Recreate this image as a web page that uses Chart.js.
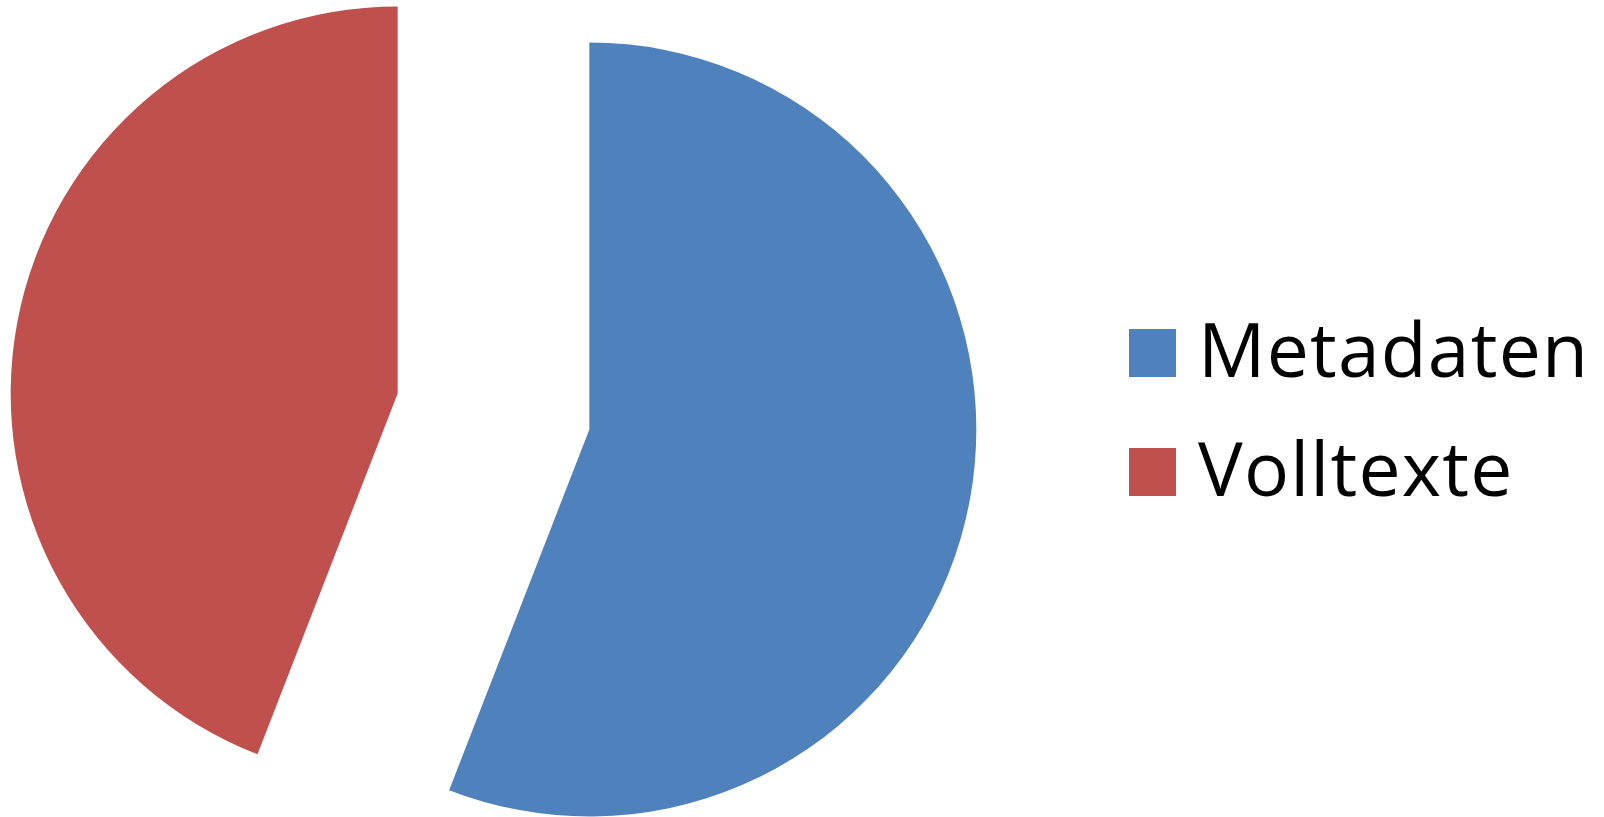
<!DOCTYPE html>
<html lang="de">
<head>
<meta charset="utf-8">
<title>Metadaten und Volltexte</title>
<script src="https://cdn.jsdelivr.net/npm/chart.js@4/dist/chart.umd.min.js"></script>
<style>
  html, body { margin: 0; padding: 0; background: #ffffff; overflow: hidden; }
  body { width: 1604px; height: 817px; position: relative; }
  #pieWrap { position: absolute; left: 0; top: 0; width: 987px; height: 823px; }
  #legend { position: absolute; left: 0; top: 0; }
  .swatch { position: absolute; width: 47px; height: 48px; }
  .label {
    position: absolute; white-space: nowrap;
    font-family: "Open Sans", Lato, sans-serif; font-size: 75px; line-height: 74px;
    letter-spacing: 1.2px; color: #000000;
  }
</style>
</head>
<body>
<div id="pieWrap"><canvas id="pie"></canvas></div>
<div id="legend"></div>
<script>
// Anteile in Prozent
const categories = ['Metadaten', 'Volltexte'];
const shares = [55.9, 44.1];
const colors = ['#4F81BD', '#C0504D'];

// Abstand, um den jedes Segment nach außen gerückt wird
const EXPLODE = 97.5;

// Segmente entlang ihrer Winkelhalbierenden verschieben, ohne den Radius zu ändern
const explodeSlices = {
  id: 'explodeSlices',
  afterDatasetUpdate(chart, args) {
    args.meta.data.forEach(arc => {
      const mid = (arc.startAngle + arc.endAngle) / 2;
      arc.x += Math.cos(mid) * EXPLODE;
      arc.y += Math.sin(mid) * EXPLODE;
    });
  }
};

new Chart(document.getElementById('pie'), {
  type: 'pie',
  data: {
    labels: categories,
    datasets: [{
      data: shares,
      backgroundColor: colors,
      borderWidth: 0
    }]
  },
  options: {
    responsive: true,
    maintainAspectRatio: false,
    animation: false,
    radius: 387,
    layout: { padding: 0 },
    plugins: {
      legend: { display: false },
      tooltip: { enabled: false }
    }
  },
  plugins: [explodeSlices]
});

// Legende rechts neben dem Diagramm
const legendRows = [
  { swatchTop: 329, labelTop: 311 },
  { swatchTop: 448, labelTop: 430 }
];
const legend = document.getElementById('legend');
categories.forEach((name, i) => {
  const sw = document.createElement('div');
  sw.className = 'swatch';
  sw.style.left = '1129px';
  sw.style.top = legendRows[i].swatchTop + 'px';
  sw.style.background = colors[i];
  const lb = document.createElement('div');
  lb.className = 'label';
  lb.style.left = '1198px';
  lb.style.top = legendRows[i].labelTop + 'px';
  lb.textContent = name;
  legend.appendChild(sw);
  legend.appendChild(lb);
});
</script>
</body>
</html>
